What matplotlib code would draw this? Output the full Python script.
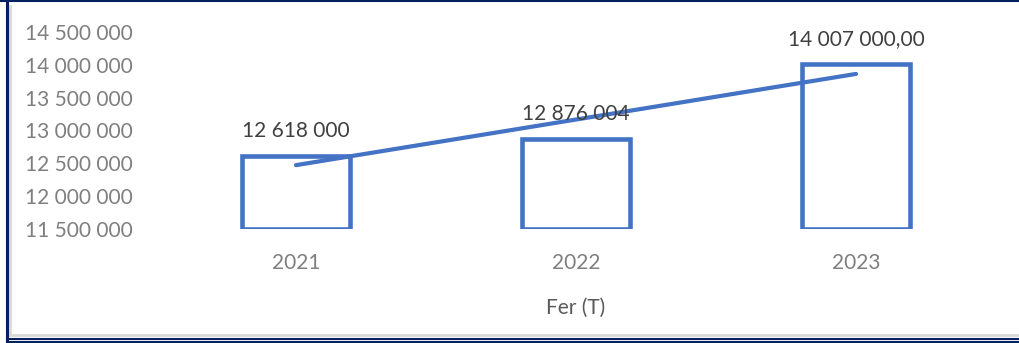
import matplotlib
matplotlib.use('Agg')
import matplotlib.pyplot as plt
from matplotlib.lines import Line2D
import numpy as np

# donnees du graphique
annees = ['2021', '2022', '2023']
valeurs = [12618000, 12876004, 14007000]
etiquettes = ['12 618 000', '12 876 004', '14 007 000,00']
titre_x = 'Fer (T)'
yticks = [11500000, 12000000, 12500000, 13000000, 13500000, 14000000, 14500000]

bleu = '#4472C4'
marine = '#002060'

plt.rcParams['font.family'] = ['Lato', 'DejaVu Sans']

fig = plt.figure(figsize=(10.19, 3.43), dpi=100)
ax = fig.add_axes([156 / 1019, 1 - 229 / 343, 840 / 1019, 197 / 343])

x = np.arange(len(annees))
base = yticks[0]
ax.bar(x, np.array(valeurs) - base, bottom=base, width=0.385,
       facecolor='none', edgecolor=bleu, linewidth=3.3)

# courbe de tendance lineaire
pente, orig = np.polyfit(x, valeurs, 1)
ax.plot(x, pente * x + orig, color=bleu, linewidth=3, solid_capstyle='round')

for xi, v, txt in zip(x, valeurs, etiquettes):
    ax.text(xi, v + 380000, txt, ha='center', va='center',
            fontsize=15, color='#404040')

ax.set_xlim(-0.5, 2.5)
ax.set_ylim(yticks[0], yticks[-1])
ax.set_yticks(yticks)
ax.set_yticklabels([f'{t:,}'.replace(',', ' ') for t in yticks])
ax.set_xticks(x)
ax.set_xticklabels(annees)
ax.tick_params(axis='y', length=0, pad=17, labelsize=15, labelcolor='#7f7f7f')
ax.tick_params(axis='x', length=0, pad=17, labelsize=15, labelcolor='#7f7f7f')
ax.set_xlabel(titre_x, fontsize=15, color='#595959', labelpad=18)
for s in ax.spines.values():
    s.set_visible(False)
ax.set_facecolor('none')

# cadre autour de l'image
fig.add_artist(Line2D([10 / 1019, 10 / 1019], [8 / 343, 1 - 6 / 343], color='#d9d9d9', lw=2, transform=fig.transFigure))
fig.add_artist(Line2D([10 / 1019, 1], [8 / 343, 8 / 343], color='#d9d9d9', lw=2, transform=fig.transFigure))
fig.add_artist(Line2D([7 / 1019, 7 / 1019], [0, 1], color=marine, lw=2.2, transform=fig.transFigure))
fig.add_artist(Line2D([0, 1], [1 - 1 / 343, 1 - 1 / 343], color=marine, lw=1.5, transform=fig.transFigure))
fig.add_artist(Line2D([7 / 1019, 1], [4.5 / 343, 4.5 / 343], color=marine, lw=1.5, transform=fig.transFigure))
fig.add_artist(Line2D([7 / 1019, 1], [1 / 343, 1 / 343], color=marine, lw=1.5, transform=fig.transFigure))

fig.savefig('out.png', dpi=100)
